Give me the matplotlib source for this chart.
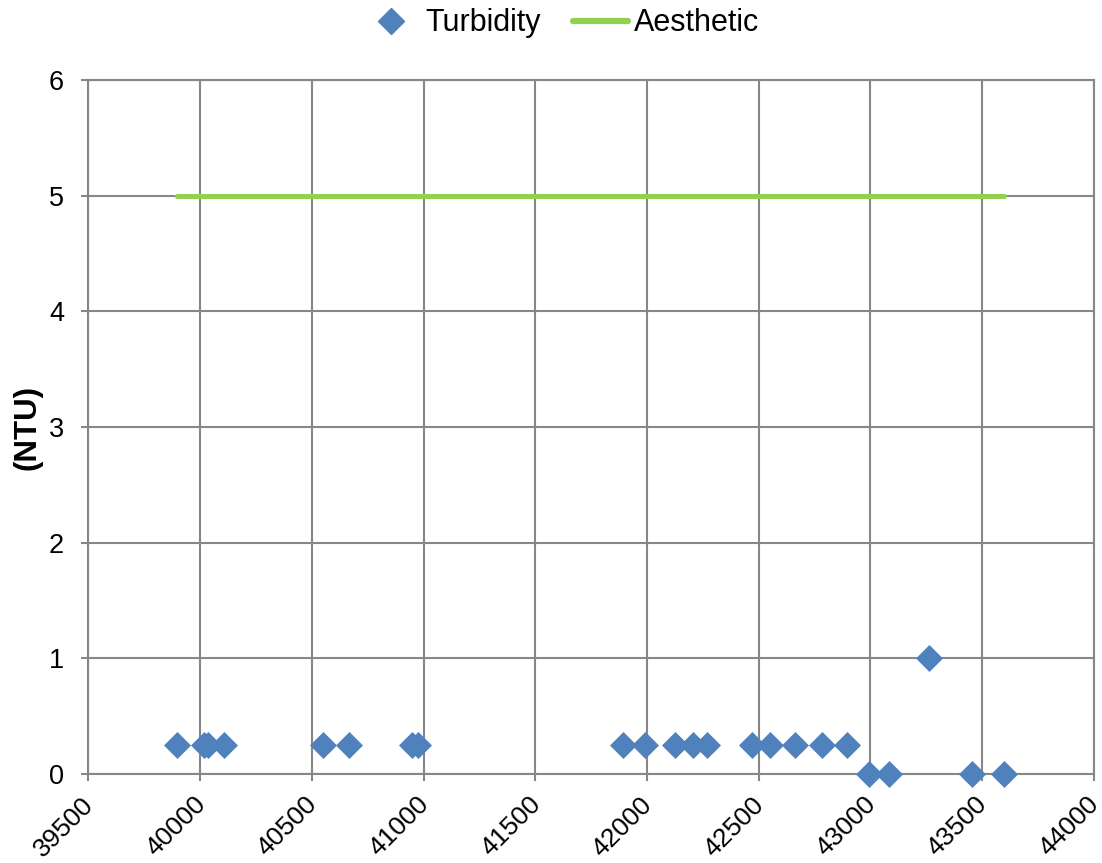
import matplotlib.pyplot as plt
from matplotlib.lines import Line2D
from matplotlib.transforms import ScaledTranslation

plt.rcParams['font.family'] = ['Liberation Sans', 'DejaVu Sans']

# turbidity samples (date serial, NTU)
dates = [39895, 40015, 40036, 40106, 40551, 40666, 40950, 40974,
         41892, 41991, 42123, 42208, 42267, 42468, 42549, 42662,
         42785, 42894, 42992, 43081, 43263, 43454, 43599]
turbidity = [0.25, 0.25, 0.25, 0.25, 0.25, 0.25, 0.25, 0.25,
             0.25, 0.25, 0.25, 0.25, 0.25, 0.25, 0.25, 0.25,
             0.25, 0.25, 0, 0, 1, 0, 0]

# aesthetic guideline
aes_x = [39895, 43599]
aes_y = [5, 5]

blue = '#4F81BD'
green = '#92D050'
grid_col = '#878787'

fig = plt.figure(figsize=(11.02, 8.63), dpi=100)
ax = fig.add_axes([0.0803, 0.1031, 0.9123, 0.8042])

ax.plot(aes_x, aes_y, color=green, lw=3.6, solid_capstyle='round', zorder=2)
ax.plot(dates, turbidity, ls='none', marker='D', ms=13.5, color=blue,
        mec=blue, mew=0.5, zorder=3, clip_on=False)

ax.set_xlim(39500, 44000)
ax.set_ylim(0, 6)
ax.set_xticks(range(39500, 44001, 500))
ax.set_yticks(range(0, 7))
ax.grid(True, color=grid_col, lw=1.5)
ax.set_axisbelow(True)
for s in ax.spines.values():
    s.set_color(grid_col)
    s.set_linewidth(1.5)
ax.tick_params(axis='both', colors=grid_col, width=1.5, length=5,
               labelcolor='black', labelsize=19.5)
ax.tick_params(axis='y', pad=12.5)

# rotated date labels, nudged down-left
shift = ScaledTranslation(-0.07, -0.065, fig.dpi_scale_trans)
for lab in ax.get_xticklabels():
    lab.set_rotation(45)
    lab.set_fontsize(19)
    lab.set_ha('right')
    lab.set_rotation_mode('anchor')
    lab.set_transform(lab.get_transform() + shift)

ax.set_ylabel('(NTU)', fontsize=22.5, fontweight='bold')
ax.yaxis.set_label_coords(-0.046, 0.5)

handles = [Line2D([], [], ls='none', marker='D', ms=13.5, color=blue),
           Line2D([], [], color=green, lw=4.5, solid_capstyle='round')]
fig.legend(handles, ['Turbidity', 'Aesthetic'], loc='center',
           bbox_to_anchor=(0.5095, 0.973), ncol=2, frameon=False,
           fontsize=22, handlelength=1.8, handletextpad=0.2,
           columnspacing=1.05, borderpad=0, borderaxespad=0)

fig.savefig('out.png', dpi=100)
